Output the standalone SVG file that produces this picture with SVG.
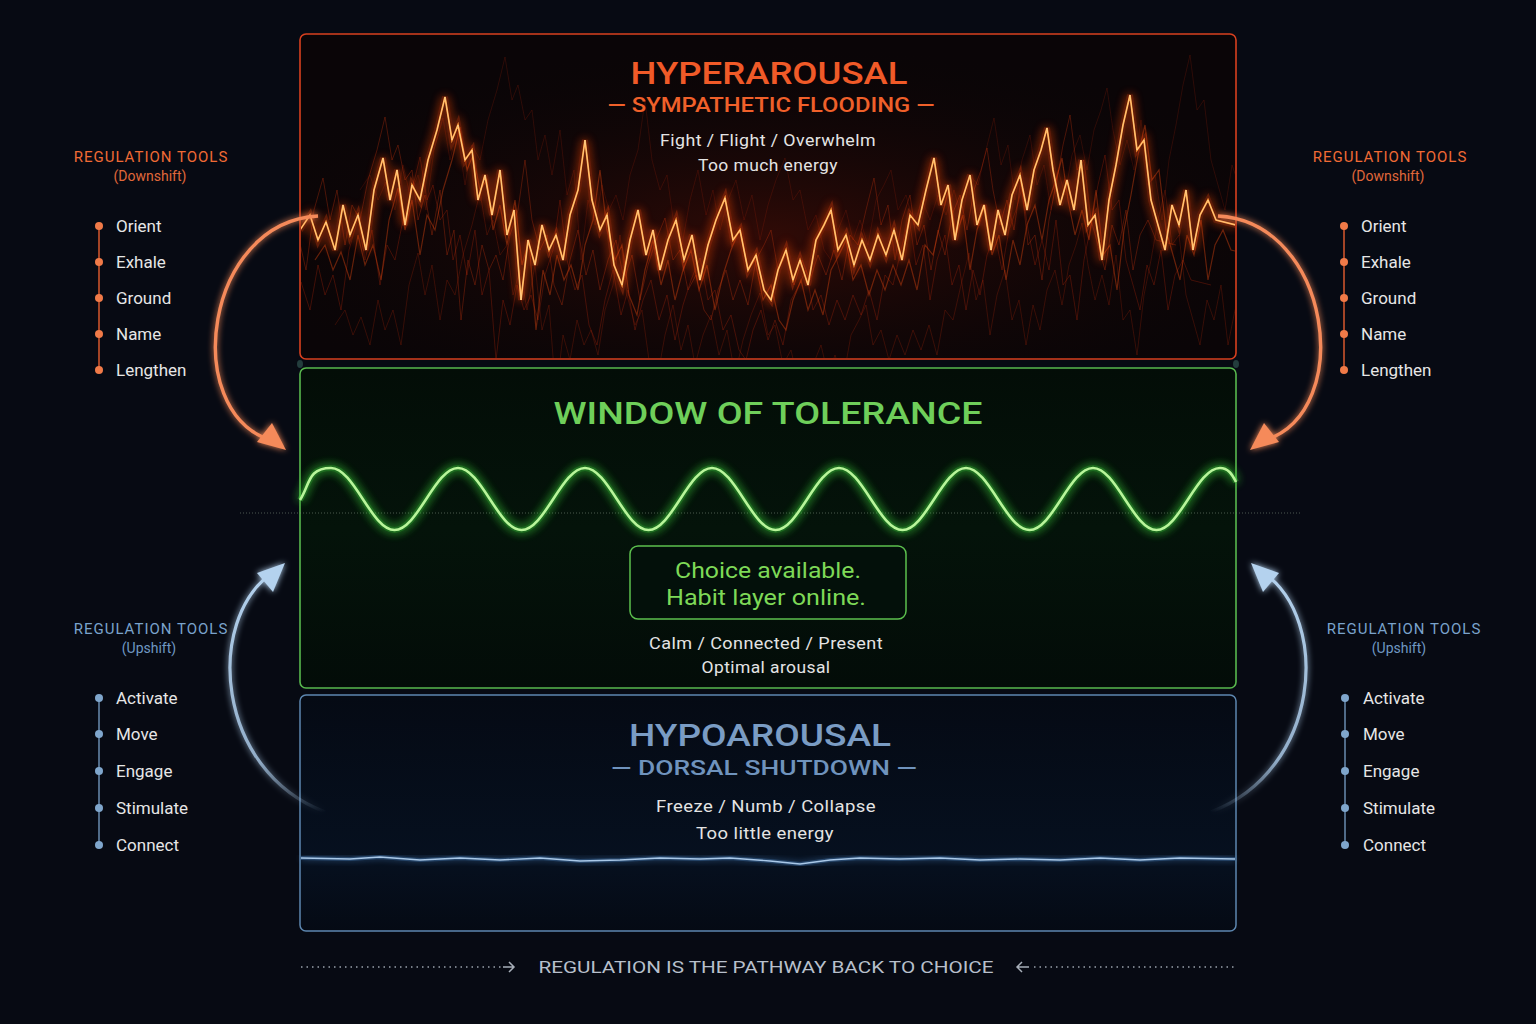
<svg xmlns="http://www.w3.org/2000/svg" xmlns:xlink="http://www.w3.org/1999/xlink" width="1536" height="1024" viewBox="0 0 1536 1024">
<defs>
<style>
.body{font-family:Roboto,"Liberation Sans",sans-serif;font-size:17px;fill:#e4e4e4;letter-spacing:0.4px}
.list{font-family:Roboto,"Liberation Sans",sans-serif;font-size:17px;fill:#e6e6e6}
.ttl{font-family:Roboto,"Liberation Sans",sans-serif;font-weight:500;font-size:32px;text-anchor:middle}
.sub{font-family:Roboto,"Liberation Sans",sans-serif;font-weight:500;font-size:20px;text-anchor:middle}
.lblO{font-family:Roboto,"Liberation Sans",sans-serif;font-size:15px;fill:#f06a35;letter-spacing:1px;text-anchor:middle}
.lblB{font-family:Roboto,"Liberation Sans",sans-serif;font-size:15px;fill:#7aa3cc;letter-spacing:1px;text-anchor:middle}
.parO{font-family:Roboto,"Liberation Sans",sans-serif;font-size:14px;fill:#e0683a;text-anchor:middle}
.parB{font-family:Roboto,"Liberation Sans",sans-serif;font-size:14px;fill:#6f98c2;text-anchor:middle}
.dotO{fill:#f07a48}
.dotB{fill:#7fa6cc}
.dots{stroke:#9aa3ad;stroke-width:1.6;stroke-dasharray:1.5 4;fill:none}
</style>
<filter id="glow" x="-20%" y="-20%" width="140%" height="140%">
<feGaussianBlur stdDeviation="3" result="b"/>
<feMerge><feMergeNode in="b"/><feMergeNode in="SourceGraphic"/></feMerge>
</filter>
<filter id="glow2" x="-20%" y="-20%" width="140%" height="140%">
<feGaussianBlur stdDeviation="5" result="b"/>
<feMerge><feMergeNode in="b"/><feMergeNode in="b"/><feMergeNode in="SourceGraphic"/></feMerge>
</filter>
<clipPath id="hyperClip"><rect x="301" y="35" width="934" height="323" rx="6"/></clipPath>
<radialGradient id="redHaze" cx="0.5" cy="0.62" r="0.6">
<stop offset="0" stop-color="#3a0c06" stop-opacity="0.8"/>
<stop offset="1" stop-color="#0a0506" stop-opacity="0"/>
</radialGradient>
<linearGradient id="greenFill" x1="0" y1="0" x2="0" y2="1">
<stop offset="0" stop-color="#030d07"/>
<stop offset="0.5" stop-color="#04130a"/>
<stop offset="1" stop-color="#030c08"/>
</linearGradient>
<linearGradient id="blueFill" x1="0" y1="0" x2="0" y2="1">
<stop offset="0" stop-color="#050a14"/>
<stop offset="0.7" stop-color="#06101f"/>
<stop offset="1" stop-color="#050a14"/>
</linearGradient>
<linearGradient id="blueTailL" gradientUnits="userSpaceOnUse" x1="325" y1="812" x2="283" y2="565">
<stop offset="0" stop-color="#a9c8e6" stop-opacity="0"/>
<stop offset="0.25" stop-color="#a9c8e6" stop-opacity="0.8"/>
<stop offset="1" stop-color="#b4d2ee"/>
</linearGradient>
<linearGradient id="blueTailR" gradientUnits="userSpaceOnUse" x1="1211" y1="812" x2="1253" y2="565">
<stop offset="0" stop-color="#a9c8e6" stop-opacity="0"/>
<stop offset="0.25" stop-color="#a9c8e6" stop-opacity="0.8"/>
<stop offset="1" stop-color="#b4d2ee"/>
</linearGradient>
<polyline id="jag" fill="none" points="300,230 310,215 318,240 326,222 335,250 343,205 350,235 358,215 366,250 374,190 383,158 390,200 397,170 405,225 412,185 420,200 428,160 437,130 445,97 452,140 458,125 465,160 472,150 478,200 485,175 492,215 500,170 507,235 514,210 521,300 528,240 535,265 542,225 549,250 556,235 563,260 570,215 578,190 585,140 592,200 600,230 607,215 614,265 622,285 630,240 638,210 646,255 653,230 660,270 668,240 676,220 684,260 692,235 700,280 708,245 716,220 725,198 733,240 740,230 748,270 756,255 764,290 771,300 778,270 786,250 793,280 800,260 808,285 816,240 824,225 831,210 838,250 846,235 854,265 862,240 870,260 878,235 886,255 894,230 902,260 910,215 918,225 926,190 934,158 941,205 948,185 955,240 962,200 970,175 977,225 984,205 991,250 998,210 1005,235 1012,195 1020,175 1027,210 1034,170 1041,150 1047,128 1053,170 1060,205 1067,180 1074,210 1081,160 1088,225 1095,215 1102,260 1109,200 1116,165 1123,125 1130,95 1137,150 1144,140 1151,200 1158,225 1165,250 1172,205 1179,225 1186,190 1193,250 1200,215 1208,200 1216,220 1236,225"/>
</defs>

<rect width="1536" height="1024" fill="#070a13"/>

<!-- HYPERAROUSAL -->
<g id="hyperarousal">
<rect x="300" y="34" width="936" height="325" rx="6" fill="#0a0507"/>
<rect x="300" y="34" width="936" height="325" rx="6" fill="url(#redHaze)"/>
<g clip-path="url(#hyperClip)">
<use href="#jag" transform="translate(-25,60)" stroke="#a8260c" stroke-width="1" opacity="0.35"/>
<use href="#jag" transform="translate(35,95)" stroke="#a8260c" stroke-width="1" opacity="0.28"/>
<use href="#jag" transform="translate(60,-40)" stroke="#a8260c" stroke-width="1" opacity="0.22"/>
<use href="#jag" transform="translate(-60,20)" stroke="#c2340e" stroke-width="1" opacity="0.35"/>
<use href="#jag" transform="translate(15,30)" stroke="#d2420f" stroke-width="1.2" opacity="0.45"/>
<use href="#jag" stroke="#ff4a10" stroke-width="6" opacity="0.35" filter="url(#glow2)"/>
<use href="#jag" stroke="#ff9a3a" stroke-width="1.8"/>
<use href="#jag" stroke="#ffe0a0" stroke-width="0.7"/>
</g>
<rect x="300" y="34" width="936" height="325" rx="6" fill="none" stroke="#d8401f" stroke-width="1.6"/>
<text class="ttl" x="769" y="84" fill="#f05a28" textLength="277" lengthAdjust="spacingAndGlyphs">HYPERAROUSAL</text>
<text class="sub" x="771" y="112" fill="#f0602a" textLength="327" lengthAdjust="spacingAndGlyphs">— SYMPATHETIC FLOODING —</text>
<text class="body" x="768" y="146" text-anchor="middle" textLength="216" lengthAdjust="spacingAndGlyphs">Fight / Flight / Overwhelm</text>
<text class="body" x="768" y="171" text-anchor="middle" textLength="140" lengthAdjust="spacingAndGlyphs">Too much energy</text>
</g>

<!-- small junction marks between panels -->
<ellipse cx="300" cy="364" rx="3" ry="4" fill="#2a4a48" opacity="0.8"/>
<ellipse cx="1236" cy="364" rx="3" ry="4" fill="#2a4a48" opacity="0.8"/>

<!-- WINDOW OF TOLERANCE -->
<g id="window-of-tolerance">
<rect x="300" y="368" width="936" height="320" rx="6" fill="url(#greenFill)" stroke="#58b84e" stroke-width="1.6"/>
<line x1="240" y1="513" x2="1300" y2="513" stroke="#7a8a7a" stroke-width="1" stroke-dasharray="1 2" opacity="0.6"/>
<text class="ttl" x="768" y="424" fill="#6fcf5a" textLength="429" lengthAdjust="spacingAndGlyphs">WINDOW OF TOLERANCE</text>
<path d="M300,500 C310,484 308,468 331,468 S371.5,530 394.5,530 S435,468 458,468 S498.5,530 521.5,530 S562,468 585,468 S625.5,530 648.5,530 S689,468 712,468 S752.5,530 775.5,530 S816,468 839,468 S879.5,530 902.5,530 S943,468 966,468 S1006.5,530 1029.5,530 S1070,468 1093,468 S1133.5,530 1156.5,530 S1197,468 1220,468 C1228,468 1232,474 1236,482" fill="none" stroke="#3ed83a" stroke-width="6" opacity="0.45" filter="url(#glow2)"/>
<path d="M300,500 C310,484 308,468 331,468 S371.5,530 394.5,530 S435,468 458,468 S498.5,530 521.5,530 S562,468 585,468 S625.5,530 648.5,530 S689,468 712,468 S752.5,530 775.5,530 S816,468 839,468 S879.5,530 902.5,530 S943,468 966,468 S1006.5,530 1029.5,530 S1070,468 1093,468 S1133.5,530 1156.5,530 S1197,468 1220,468 C1228,468 1232,474 1236,482" fill="none" stroke="#b8f59a" stroke-width="2.6"/>
<g id="choice-box">
<rect x="630" y="546" width="276" height="73" rx="8" fill="#03100a" stroke="#5cc04e" stroke-width="1.5"/>
<text x="768" y="578" text-anchor="middle" font-family="Roboto,'Liberation Sans',sans-serif" font-size="22" fill="#7ed957" textLength="186" lengthAdjust="spacingAndGlyphs">Choice available.</text>
<text x="766" y="605" text-anchor="middle" font-family="Roboto,'Liberation Sans',sans-serif" font-size="22" fill="#7ed957" textLength="200" lengthAdjust="spacingAndGlyphs">Habit layer online.</text>
</g>
<text class="body" x="766" y="649" text-anchor="middle" textLength="234" lengthAdjust="spacingAndGlyphs">Calm / Connected / Present</text>
<text class="body" x="766" y="673" text-anchor="middle" textLength="129" lengthAdjust="spacingAndGlyphs">Optimal arousal</text>
</g>

<!-- HYPOAROUSAL -->
<g id="hypoarousal">
<rect x="300" y="695" width="936" height="236" rx="6" fill="url(#blueFill)" stroke="#5d87b0" stroke-width="1.5"/>
<text class="ttl" x="760" y="746" fill="#7a9cc4" textLength="262" lengthAdjust="spacingAndGlyphs">HYPOAROUSAL</text>
<text class="sub" x="764" y="775" fill="#6f93bd" textLength="306" lengthAdjust="spacingAndGlyphs">— DORSAL SHUTDOWN —</text>
<text class="body" x="766" y="812" text-anchor="middle" textLength="220" lengthAdjust="spacingAndGlyphs">Freeze / Numb / Collapse</text>
<text class="body" x="765" y="839" text-anchor="middle" textLength="138" lengthAdjust="spacingAndGlyphs">Too little energy</text>
<polyline points="301,858 350,859 380,857 420,860 460,858 500,860 540,858 580,861 620,860 660,858 700,859 730,858 770,861 800,864 830,860 860,858 900,859 940,858 980,860 1020,859 1060,860 1100,858 1140,860 1180,858 1235,859" fill="none" stroke="#4d86c4" stroke-width="4" opacity="0.45" filter="url(#glow)"/>
<polyline points="301,858 350,859 380,857 420,860 460,858 500,860 540,858 580,861 620,860 660,858 700,859 730,858 770,861 800,864 830,860 860,858 900,859 940,858 980,860 1020,859 1060,860 1100,858 1140,860 1180,858 1235,859" fill="none" stroke="#a9c8e8" stroke-width="1.4"/>
</g>

<!-- Tools: left downshift -->
<g id="tools-left-downshift">
<text class="lblO" x="151" y="162">REGULATION TOOLS</text>
<text class="parO" x="150" y="181">(Downshift)</text>
<line x1="99" y1="226" x2="99" y2="370" stroke="#d9582e" stroke-width="1.5"/>
<circle class="dotO" cx="99" cy="226" r="4"/><circle class="dotO" cx="99" cy="262" r="4"/><circle class="dotO" cx="99" cy="298" r="4"/><circle class="dotO" cx="99" cy="334" r="4"/><circle class="dotO" cx="99" cy="370" r="4"/>
<text class="list" x="116" y="232">Orient</text>
<text class="list" x="116" y="268">Exhale</text>
<text class="list" x="116" y="304">Ground</text>
<text class="list" x="116" y="340">Name</text>
<text class="list" x="116" y="376">Lengthen</text>
</g>

<!-- Tools: right downshift -->
<g id="tools-right-downshift">
<text class="lblO" x="1390" y="162">REGULATION TOOLS</text>
<text class="parO" x="1388" y="181">(Downshift)</text>
<line x1="1344" y1="226" x2="1344" y2="370" stroke="#d9582e" stroke-width="1.5"/>
<circle class="dotO" cx="1344" cy="226" r="4"/><circle class="dotO" cx="1344" cy="262" r="4"/><circle class="dotO" cx="1344" cy="298" r="4"/><circle class="dotO" cx="1344" cy="334" r="4"/><circle class="dotO" cx="1344" cy="370" r="4"/>
<text class="list" x="1361" y="232">Orient</text>
<text class="list" x="1361" y="268">Exhale</text>
<text class="list" x="1361" y="304">Ground</text>
<text class="list" x="1361" y="340">Name</text>
<text class="list" x="1361" y="376">Lengthen</text>
</g>

<!-- Tools: left upshift -->
<g id="tools-left-upshift">
<text class="lblB" x="151" y="634">REGULATION TOOLS</text>
<text class="parB" x="149" y="653">(Upshift)</text>
<line x1="99" y1="698" x2="99" y2="845" stroke="#6a8cb0" stroke-width="1.5"/>
<circle class="dotB" cx="99" cy="698" r="4"/><circle class="dotB" cx="99" cy="734" r="4"/><circle class="dotB" cx="99" cy="771" r="4"/><circle class="dotB" cx="99" cy="808" r="4"/><circle class="dotB" cx="99" cy="845" r="4"/>
<text class="list" x="116" y="704">Activate</text>
<text class="list" x="116" y="740">Move</text>
<text class="list" x="116" y="777">Engage</text>
<text class="list" x="116" y="814">Stimulate</text>
<text class="list" x="116" y="851">Connect</text>
</g>

<!-- Tools: right upshift -->
<g id="tools-right-upshift">
<text class="lblB" x="1404" y="634">REGULATION TOOLS</text>
<text class="parB" x="1399" y="653">(Upshift)</text>
<line x1="1345" y1="698" x2="1345" y2="845" stroke="#6a8cb0" stroke-width="1.5"/>
<circle class="dotB" cx="1345" cy="698" r="4"/><circle class="dotB" cx="1345" cy="734" r="4"/><circle class="dotB" cx="1345" cy="771" r="4"/><circle class="dotB" cx="1345" cy="808" r="4"/><circle class="dotB" cx="1345" cy="845" r="4"/>
<text class="list" x="1363" y="704">Activate</text>
<text class="list" x="1363" y="740">Move</text>
<text class="list" x="1363" y="777">Engage</text>
<text class="list" x="1363" y="814">Stimulate</text>
<text class="list" x="1363" y="851">Connect</text>
</g>

<!-- Connectors -->
<g id="connectors">
<g filter="url(#glow)">
<path d="M318,216 C205,222 180,410 270,440" fill="none" stroke="#f58a5a" stroke-width="3.4"/>
<polygon points="286,450 257,442 272,423" fill="#f58a5a"/>
<path d="M1218,216 C1331,222 1356,410 1266,440" fill="none" stroke="#f58a5a" stroke-width="3.4"/>
<polygon points="1250,450 1279,442 1264,423" fill="#f58a5a"/>
<path d="M325,812 C215,770 205,620 272,573" fill="none" stroke="url(#blueTailL)" stroke-width="3.2"/>
<polygon points="285,563 257,573 273,592" fill="#b4d2ee"/>
<path d="M1211,812 C1321,770 1331,620 1264,573" fill="none" stroke="url(#blueTailR)" stroke-width="3.2"/>
<polygon points="1251,563 1279,573 1263,592" fill="#b4d2ee"/>
</g>
</g>

<!-- Footer -->
<g id="footer">
<line class="dots" x1="301" y1="967" x2="503" y2="967"/>
<path d="M503,967 H514 M509,962 L514,967 L509,972" fill="none" stroke="#a8b0ba" stroke-width="1.5"/>
<text x="766" y="973" text-anchor="middle" font-family="Roboto,'Liberation Sans',sans-serif" font-size="16" fill="#b8c0cc" textLength="455" lengthAdjust="spacingAndGlyphs">REGULATION IS THE PATHWAY BACK TO CHOICE</text>
<path d="M1029,967 H1017 M1022,962 L1017,967 L1022,972" fill="none" stroke="#a8b0ba" stroke-width="1.5"/>
<line class="dots" x1="1034" y1="967" x2="1236" y2="967"/>
</g>
</svg>
